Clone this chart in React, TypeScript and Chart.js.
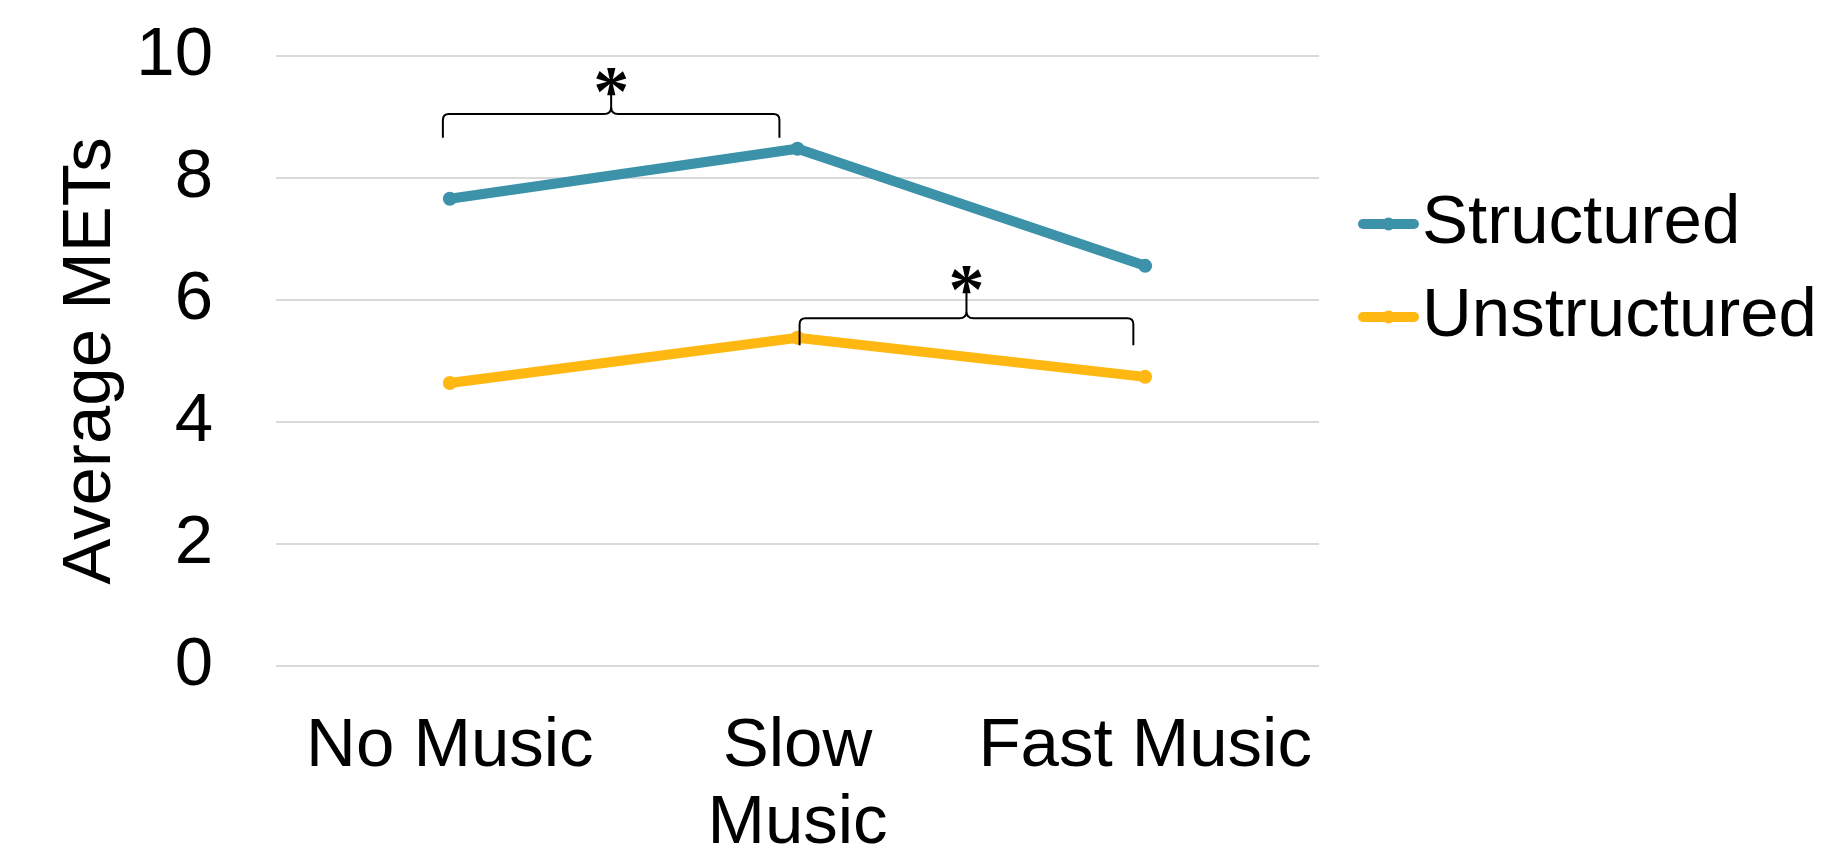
import React, { useEffect, useRef } from 'react';
import { Chart, registerables } from 'chart.js';

Chart.register(...registerables);

// ---- data ----
const categories: (string | string[])[] = ['No Music', ['Slow', 'Music'], 'Fast Music'];
const seriesNames = ['Structured', 'Unstructured'];
const structuredValues = [7.66, 8.48, 6.56];
const unstructuredValues = [4.64, 5.38, 4.74];
const yMin = 0;
const yMax = 10;
const yStep = 2;

// significance braces (in data units: category index / y value)
const braceFrom = [-0.02, 1.006];
const braceTo = [0.948, 1.966];
const braceTop = [9.05, 5.7];
const braceBottom = [8.66, 5.26];
const braceTip = [9.38, 6.2];
const starY = [9.57, 6.33];
const starLabel = '*';

const colors = ['#3C92A8', '#FFB711'];
const FONT = '"Liberation Sans", Arial, sans-serif';
const FS = 69;

const bracePlugin = {
  id: 'braces',
  afterDatasetsDraw(chart: any) {
    const { ctx, scales } = chart;
    const x = scales.x;
    const y = scales.y;
    ctx.save();
    ctx.strokeStyle = '#000';
    ctx.lineWidth = 2;
    ctx.lineJoin = 'round';
    for (let i = 0; i < braceFrom.length; i++) {
      const x0 = x.getPixelForValue(braceFrom[i]);
      const x1 = x.getPixelForValue(braceTo[i]);
      const xc = (x0 + x1) / 2;
      const yt = y.getPixelForValue(braceTop[i]);
      const yb = y.getPixelForValue(braceBottom[i]);
      const ytip = y.getPixelForValue(braceTip[i]);
      const r = 6;
      const rc = 7;
      ctx.beginPath();
      ctx.moveTo(x0, yb);
      ctx.lineTo(x0, yt + r);
      ctx.quadraticCurveTo(x0, yt, x0 + r, yt);
      ctx.lineTo(xc - rc, yt);
      ctx.quadraticCurveTo(xc, yt, xc, yt - rc);
      ctx.lineTo(xc, ytip);
      ctx.moveTo(xc, yt - rc);
      ctx.quadraticCurveTo(xc, yt, xc + rc, yt);
      ctx.lineTo(x1 - r, yt);
      ctx.quadraticCurveTo(x1, yt, x1, yt + r);
      ctx.lineTo(x1, yb);
      ctx.stroke();

      // asterisk
      ctx.fillStyle = '#000';
      ctx.font = 'bold 72px "Liberation Serif", "Times New Roman", serif';
      ctx.textAlign = 'center';
      ctx.textBaseline = 'alphabetic';
      const m = ctx.measureText(starLabel);
      const asc = m.actualBoundingBoxAscent;
      const desc = m.actualBoundingBoxDescent;
      const cy = y.getPixelForValue(starY[i]);
      ctx.fillText(starLabel, xc, cy + (asc - desc) / 2);
    }
    ctx.restore();
  },
};

const legendPlugin = {
  id: 'customLegend',
  afterDraw(chart: any) {
    const { ctx } = chart;
    const rows = [224, 317];
    const lx0 = 1358;
    const lx1 = 1419;
    ctx.save();
    chart.data.datasets.forEach((ds: any, i: number) => {
      const cy = rows[i];
      ctx.strokeStyle = ds.borderColor;
      ctx.lineWidth = 10;
      ctx.lineCap = 'round';
      ctx.beginPath();
      ctx.moveTo(lx0 + 5, cy);
      ctx.lineTo(lx1 - 5, cy);
      ctx.stroke();
      ctx.fillStyle = ds.borderColor;
      ctx.beginPath();
      ctx.arc((lx0 + lx1) / 2, cy, 6.5, 0, Math.PI * 2);
      ctx.fill();
      ctx.fillStyle = '#000';
      ctx.font = `${FS}px ${FONT}`;
      ctx.textAlign = 'left';
      ctx.textBaseline = 'middle';
      ctx.fillText(ds.label, 1422, cy);
    });
    ctx.restore();
  },
};

export default function App() {
  const canvasRef = useRef<HTMLCanvasElement | null>(null);

  useEffect(() => {
    if (!canvasRef.current) return;
    const chart = new Chart(canvasRef.current, {
      type: 'line',
      data: {
        labels: categories as any,
        datasets: [
          {
            label: seriesNames[0],
            data: structuredValues,
            borderColor: colors[0],
            backgroundColor: colors[0],
            borderWidth: 10,
            pointRadius: 7,
            pointBorderWidth: 0,
            pointBackgroundColor: colors[0],
            tension: 0,
          },
          {
            label: seriesNames[1],
            data: unstructuredValues,
            borderColor: colors[1],
            backgroundColor: colors[1],
            borderWidth: 10,
            pointRadius: 7,
            pointBorderWidth: 0,
            pointBackgroundColor: colors[1],
            tension: 0,
          },
        ],
      },
      options: {
        responsive: false,
        animation: false,
        layout: { padding: { top: 56, right: 506, bottom: 0, left: 0 } },
        plugins: {
          legend: { display: false },
          tooltip: { enabled: false },
        },
        scales: {
          x: {
            offset: true,
            grid: { display: false, drawTicks: true, tickLength: 42 },
            border: { display: false },
            ticks: {
              color: '#000',
              font: { family: FONT, size: FS, lineHeight: 1.12 },
              padding: 0,
              maxRotation: 0,
              autoSkip: false,
            },
            afterFit(scale: any) {
              scale.height = 191;
            },
          },
          y: {
            min: yMin,
            max: yMax,
            grid: {
              color: '#D9D9D9',
              lineWidth: 2,
              drawTicks: true,
              tickLength: 63,
              tickColor: 'rgba(0,0,0,0)',
            },
            border: { display: false },
            ticks: {
              stepSize: yStep,
              color: '#000',
              font: { family: FONT, size: FS },
              padding: 0,
            },
            title: {
              display: true,
              text: 'Average METs',
              color: '#000',
              font: { family: FONT, size: FS, lineHeight: 1.2 },
              padding: { top: 50, bottom: 0 },
            },
            afterFit(scale: any) {
              scale.width = 276;
            },
          },
        },
      },
      plugins: [bracePlugin, legendPlugin],
    } as any);
    return () => chart.destroy();
  }, []);

  return (
    <div style={{ position: 'fixed', left: 0, top: 0, width: 1825, height: 857, background: '#fff' }}>
      <canvas ref={canvasRef} width={1825} height={857} style={{ display: 'block' }} />
    </div>
  );
}
